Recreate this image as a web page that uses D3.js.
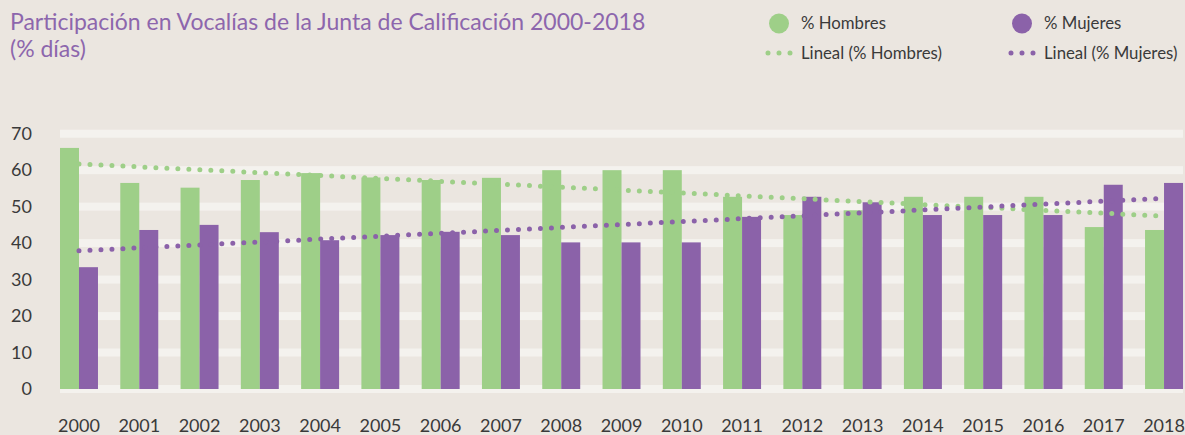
<!DOCTYPE html>
<html>
<head>
<meta charset="utf-8">
<script src="https://cdn.jsdelivr.net/npm/d3@7"></script>
<style>
  body { margin: 0; background: #ebe6e0; }
  svg { display: block; }
</style>
</head>
<body>
<div id="chart"></div>
<script>
// data
var years = ["2000", "2001", "2002", "2003", "2004", "2005", "2006", "2007", "2008", "2009",
  "2010", "2011", "2012", "2013", "2014", "2015", "2016", "2017", "2018"]
var hombres = [66.1, 56.5, 55.2, 57.3, 59.2, 58.0, 57.3, 57.9, 60.0, 60.0,
  60.0, 52.7, 47.7, 49.0, 52.7, 52.7, 52.7, 44.4, 43.6]
var mujeres = [33.4, 43.6, 45.0, 43.0, 40.8, 42.2, 43.1, 42.2, 40.2, 40.2,
  40.2, 47.2, 52.7, 51.2, 47.7, 47.7, 47.7, 56.0, 56.5]
// trend lines (Excel "Lineal"), first and last year values
var lineal_hombres = [61.7, 47.4]
var lineal_mujeres = [37.9, 52.3]
var yTicks = [0, 10, 20, 30, 40, 50, 60, 70]

var W = 1185, H = 435
var green = "#9ecf88", purple = "#8b62a9"
var font = "Lato, 'Open Sans', sans-serif"

var svg = d3.select("#chart").append("svg")
  .attr("width", W).attr("height", H)

svg.append("rect").attr("width", W).attr("height", H).style("fill", "#ebe6e0")

// scales
var step = 60.28, pad = 0.37
var x = d3.scaleBand()
  .domain(years)
  .range([60 - step * pad / 2, 60 - step * pad / 2 + step * years.length])
  .paddingInner(pad)
  .paddingOuter(pad / 2)

var x1 = d3.scaleBand().domain(["h", "m"]).range([0, x.bandwidth()])

var y = d3.scaleLinear().domain([0, 70]).range([389, 133.7])

// grid bands
svg.selectAll("grid")
  .data(yTicks).enter()
  .append("rect")
  .attr("x", 60)
  .attr("width", 1183 - 60)
  .attr("y", function (d) { return y(d) - 4 })
  .attr("height", 8)
  .style("fill", "#f4f2ee")

// y labels
svg.selectAll("ylab")
  .data(yTicks).enter()
  .append("text")
  .attr("x", 32)
  .attr("y", function (d) { return y(d) + 6 })
  .attr("text-anchor", "end")
  .style("font-family", font)
  .style("font-size", "18px")
  .style("fill", "#3a3a3a")
  .text(function (d) { return d })

// bars
var groups = svg.selectAll("grp")
  .data(years).enter()
  .append("g")
  .attr("transform", function (d) { return "translate(" + x(d) + ",0)" })

groups.append("rect")
  .attr("x", x1("h"))
  .attr("width", x1.bandwidth())
  .attr("y", function (d, i) { return y(hombres[i]) })
  .attr("height", function (d, i) { return y(0) - y(hombres[i]) })
  .style("fill", green)

groups.append("rect")
  .attr("x", x1("m"))
  .attr("width", x1.bandwidth())
  .attr("y", function (d, i) { return y(mujeres[i]) })
  .attr("height", function (d, i) { return y(0) - y(mujeres[i]) })
  .style("fill", purple)

// x labels
svg.selectAll("xlab")
  .data(years).enter()
  .append("text")
  .attr("x", function (d) { return x(d) + x.bandwidth() / 2 })
  .attr("y", 432)
  .attr("text-anchor", "middle")
  .style("font-family", font)
  .style("font-size", "18px")
  .style("fill", "#3a3a3a")
  .text(function (d) { return d })

// dotted trend lines
function trend(vals, col) {
  var first = years[0], last = years[years.length - 1]
  var pts = [[x(first) + x.bandwidth() / 2, y(vals[0])], [x(last) + x.bandwidth() / 2, y(vals[1])]]
  svg.append("path")
    .attr("d", d3.line()(pts))
    .style("fill", "none")
    .style("stroke", col)
    .style("stroke-width", 5)
    .style("stroke-linecap", "round")
    .style("stroke-dasharray", "0 11")
}
trend(lineal_hombres, green)
trend(lineal_mujeres, purple)

// title
var title = svg.append("text")
  .style("font-family", font)
  .style("font-size", "23px")
  .style("fill", "#8d66ad")
title.append("tspan").attr("x", 10).attr("y", 30)
  .text("Participación en Vocalías de la Junta de Calificación 2000-2018")
title.append("tspan").attr("x", 10).attr("y", 57)
  .text("(% días)")

// legend
var legend = [
  { name: "% Hombres", col: green, x: 779, row: 0 },
  { name: "% Mujeres", col: purple, x: 1022, row: 0 },
  { name: "Lineal (% Hombres)", col: green, x: 779, row: 1 },
  { name: "Lineal (% Mujeres)", col: purple, x: 1022, row: 1 }
]
var lg = svg.selectAll("leg").data(legend).enter().append("g")
lg.filter(function (d) { return d.row == 0 })
  .append("circle")
  .attr("cx", function (d) { return d.x })
  .attr("cy", 23.5)
  .attr("r", 10)
  .style("fill", function (d) { return d.col })
lg.filter(function (d) { return d.row == 1 })
  .append("path")
  .attr("d", function (d) { return "M" + (d.x - 11) + ",53H" + (d.x + 13) })
  .style("stroke", function (d) { return d.col })
  .style("stroke-width", 5)
  .style("stroke-linecap", "round")
  .style("stroke-dasharray", "0 11")
lg.append("text")
  .attr("x", function (d) { return d.x + 22 })
  .attr("y", function (d) { return d.row == 0 ? 29 : 59 })
  .style("font-family", font)
  .style("font-size", "16.8px")
  .style("fill", "#3a3a3a")
  .text(function (d) { return d.name })
</script>
</body>
</html>
